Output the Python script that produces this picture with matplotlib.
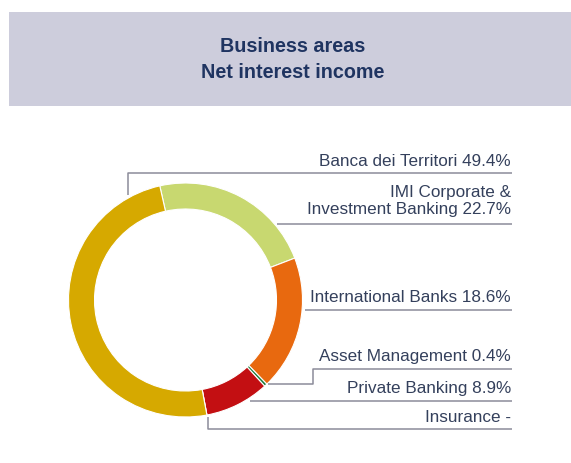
import matplotlib
matplotlib.use("Agg")
import matplotlib.pyplot as plt
from matplotlib.patches import Rectangle

# ---- data ----
categories = ["IMI Corporate &\nInvestment Banking", "International Banks",
              "Asset Management", "Private Banking", "Insurance",
              "Banca dei Territori"]
values = [22.7, 18.6, 0.4, 8.9, 0.0, 49.4]
value_labels = ["22.7%", "18.6%", "0.4%", "8.9%", "-", "49.4%"]
colors = ["#C8D870", "#E8690F", "#1D7A3A", "#C30F12", "#D9D9D9", "#D6A900"]

title_lines = ["Business areas", "Net interest income"]

W, H = 571, 463
fig = plt.figure(figsize=(W / 100, H / 100), dpi=100)
ax = fig.add_axes([0, 0, 1, 1])
ax.set_xlim(0, W)
ax.set_ylim(0, H)
ax.set_aspect("equal")
ax.axis("off")

def Y(y):
    return H - y

FONT = ["Liberation Sans", "DejaVu Sans"]
TXT = "#34405C"
LINE = "#8C8C9A"

# title band
ax.add_patch(Rectangle((9, Y(106)), W - 9, 94, facecolor="#CDCDDC", edgecolor="none", zorder=0))
ax.text(293, Y(46), title_lines[0], ha="center", va="center", fontsize=14.2,
        fontweight="bold", color="#1F3461", family=FONT)
ax.text(293, Y(72), title_lines[1], ha="center", va="center", fontsize=14.2,
        fontweight="bold", color="#1F3461", family=FONT)

# donut
cx, cy, R = 185.5, Y(300), 117
ax.pie(values, colors=colors, startangle=102.7, counterclock=False,
       radius=R, center=(cx, cy), frame=True,
       wedgeprops=dict(width=26, edgecolor="white", linewidth=0.8))
ax.set_xlim(0, W)
ax.set_ylim(0, H)
ax.axis("off")

# labels (right aligned) and leader lines
xr = 511
label_y = {
    "Banca dei Territori": 161,
    "IMI Corporate &\nInvestment Banking": 201,
    "International Banks": 298,
    "Asset Management": 357,
    "Private Banking": 388,
    "Insurance": 418,
}
for name, val in zip(categories, value_labels):
    ax.text(xr, Y(label_y[name]), f"{name} {val}", ha="right", va="center",
            fontsize=12.3, color=TXT, family=FONT, linespacing=1.22)

lw = 1.1
legs = [
    [(128, 195), (128, 173), (512, 173)],
    [(277, 224), (512, 224)],
    [(305, 310), (512, 310)],
    [(268, 384), (313, 384), (313, 369), (512, 369)],
    [(250, 401), (512, 401)],
    [(208, 417), (208, 429), (512, 429)],
]
for pts in legs:
    xs = [p[0] for p in pts]
    ys = [Y(p[1]) for p in pts]
    ax.plot(xs, ys, color=LINE, lw=lw, solid_capstyle="butt", zorder=1)

fig.savefig("out.png", dpi=100, facecolor="white")
